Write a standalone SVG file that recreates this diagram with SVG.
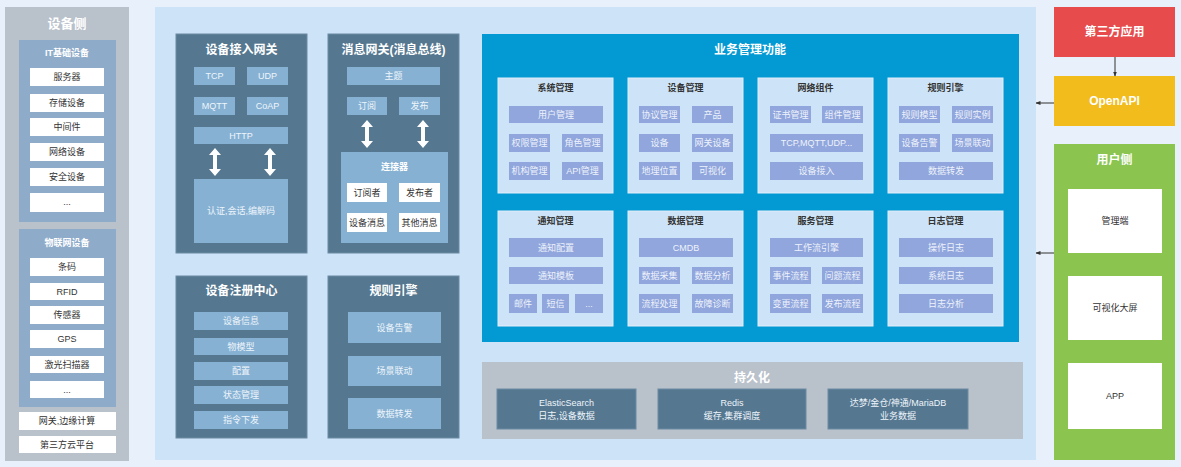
<svg xmlns="http://www.w3.org/2000/svg" xmlns:xlink="http://www.w3.org/1999/xlink" width="1181" height="467" viewBox="0 0 1181 467">
<defs>
<style>
text{font-family:"Liberation Sans","Noto Sans CJK SC",sans-serif;text-anchor:middle;dominant-baseline:central}
.t9{font-size:9px}
.t10{font-size:10px}
.w{fill:#ffffff}
.dk{fill:#333333}
.b{font-weight:bold}
.gray{fill:#b9c1cb}
.itbox{fill:#8eabc9}
.wbox{fill:#ffffff}
.dark{fill:#557790;stroke:#6d8ca4;stroke-width:1}
.lite{fill:#86b1d3}
.sub{fill:#cde3f7;stroke:#e2eefa;stroke-width:1}
.item{fill:#90a6dc}
.itxt{font-size:9px;fill:#eef2fb}
.ltxt{font-size:9px;fill:#eef5fb}
</style>
<path id="dbl" d="M0,-14 L6,-7 L2,-7 L2,7 L6,7 L0,14 L-6,7 L-2,7 L-2,-7 L-6,-7 Z" fill="#ffffff"/>
<marker id="ah" viewBox="0 0 10 10" refX="9" refY="5" markerWidth="5" markerHeight="5" orient="auto"><path d="M0,1 L10,5 L0,9 Z" fill="#333"/></marker>
</defs>
<rect x="0" y="0" width="1181" height="467" fill="#e8f1fb"/>

<!-- Left: device side -->
<g id="device-side">
<rect class="gray" x="5" y="7" width="124" height="454"/>
<text class="w b" x="67" y="23" font-size="13">设备侧</text>
<g id="it-devices">
<rect class="itbox" x="19" y="40" width="97" height="182"/>
<text class="w b t9" x="67" y="53">IT基础设备</text>
<rect class="wbox" x="30" y="68" width="74" height="18"/><text class="dk t9" x="67" y="77">服务器</text>
<rect class="wbox" x="30" y="94" width="74" height="18"/><text class="dk t9" x="67" y="103">存储设备</text>
<rect class="wbox" x="30" y="118" width="74" height="18"/><text class="dk t9" x="67" y="127">中间件</text>
<rect class="wbox" x="30" y="143" width="74" height="18"/><text class="dk t9" x="67" y="152">网络设备</text>
<rect class="wbox" x="30" y="168" width="74" height="18"/><text class="dk t9" x="67" y="177">安全设备</text>
<rect class="wbox" x="30" y="193" width="74" height="19"/><text class="dk t9" x="67" y="202">...</text>
</g>
<g id="iot-devices">
<rect class="itbox" x="19" y="229" width="97" height="178"/>
<text class="w b t9" x="67" y="243">物联网设备</text>
<rect class="wbox" x="30" y="258" width="74" height="18"/><text class="dk t9" x="67" y="267">条码</text>
<rect class="wbox" x="30" y="283" width="74" height="17"/><text class="dk t9" x="67" y="291.5">RFID</text>
<rect class="wbox" x="30" y="306" width="74" height="18"/><text class="dk t9" x="67" y="315">传感器</text>
<rect class="wbox" x="30" y="330" width="74" height="18"/><text class="dk t9" x="67" y="339">GPS</text>
<rect class="wbox" x="30" y="356" width="74" height="17"/><text class="dk t9" x="67" y="364.5">激光扫描器</text>
<rect class="wbox" x="30" y="381" width="74" height="17"/><text class="dk t9" x="67" y="389.5">...</text>
</g>
<g id="edge">
<rect class="wbox" x="19" y="412" width="97" height="18"/><text class="dk t9" x="67" y="421">网关,边缘计算</text>
</g>
<g id="cloud3">
<rect class="wbox" x="19" y="436" width="97" height="17"/><text class="dk t9" x="67" y="444.5">第三方云平台</text>
</g>
</g>

<!-- Main panel -->
<rect x="155" y="7" width="881" height="453" fill="#cde3f7"/>

<g id="access-gateway">
<rect class="dark" x="176" y="34" width="131" height="219"/>
<text class="w b" x="241.5" y="50" font-size="12">设备接入网关</text>
<rect class="lite" x="194" y="67" width="41" height="18"/><text class="ltxt" x="214.5" y="76" font-size="10">TCP</text>
<rect class="lite" x="247" y="67" width="41" height="18"/><text class="ltxt" x="267.5" y="76" font-size="10">UDP</text>
<rect class="lite" x="194" y="97" width="41" height="18"/><text class="ltxt" x="214.5" y="106" font-size="10">MQTT</text>
<rect class="lite" x="247" y="97" width="41" height="18"/><text class="ltxt" x="267.5" y="106" font-size="10">CoAP</text>
<rect class="lite" x="194" y="127" width="94" height="17"/><text class="ltxt" x="241" y="135.5" font-size="10">HTTP</text>
<rect class="lite" x="194" y="179" width="94" height="64"/><text class="ltxt" x="241" y="211">认证,会话,编解码</text>
</g>

<g id="message-gateway">
<rect class="dark" x="328" y="34" width="131" height="219"/>
<text class="w b" x="393.5" y="50" font-size="12">消息网关(消息总线)</text>
<rect class="lite" x="347" y="67" width="93" height="18"/><text class="ltxt" x="393.5" y="76">主题</text>
<rect class="lite" x="347" y="97" width="40" height="18"/><text class="ltxt" x="367" y="106">订阅</text>
<rect class="lite" x="399" y="97" width="41" height="18"/><text class="ltxt" x="419.5" y="106">发布</text>
<g id="connector">
<rect class="lite" x="341" y="152" width="107" height="91"/>
<text class="w b t9" x="394.5" y="167">连接器</text>
<rect class="wbox" x="347" y="183" width="40" height="19"/><text class="dk t9" x="367" y="192.5">订阅者</text>
<rect class="wbox" x="399" y="183" width="41" height="19"/><text class="dk t9" x="419.5" y="192.5">发布者</text>
<rect class="wbox" x="347" y="213" width="40" height="19"/><text class="dk t9" x="367" y="222.5">设备消息</text>
<rect class="wbox" x="399" y="213" width="41" height="19"/><text class="dk t9" x="419.5" y="222.5">其他消息</text>
</g>
</g>

<g id="registry">
<rect class="dark" x="176" y="276" width="131" height="162"/>
<text class="w b" x="241.5" y="291" font-size="12">设备注册中心</text>
<rect class="lite" x="194" y="312" width="94" height="18"/><text class="ltxt" x="241" y="321">设备信息</text>
<rect class="lite" x="194" y="338" width="94" height="17"/><text class="ltxt" x="241" y="346.5">物模型</text>
<rect class="lite" x="194" y="362" width="94" height="18"/><text class="ltxt" x="241" y="371">配置</text>
<rect class="lite" x="194" y="386" width="94" height="18"/><text class="ltxt" x="241" y="395">状态管理</text>
<rect class="lite" x="194" y="411" width="94" height="18"/><text class="ltxt" x="241" y="420">指令下发</text>
</g>

<g id="rule-engine-left">
<rect class="dark" x="328" y="276" width="131" height="162"/>
<text class="w b" x="393.5" y="291" font-size="12">规则引擎</text>
<rect class="lite" x="348" y="312" width="93" height="31"/><text class="ltxt" x="394.5" y="327.5">设备告警</text>
<rect class="lite" x="348" y="356" width="93" height="30"/><text class="ltxt" x="394.5" y="371">场景联动</text>
<rect class="lite" x="348" y="398" width="93" height="31"/><text class="ltxt" x="394.5" y="413.5">数据转发</text>
</g>

<!-- Business management -->
<g id="business">
<rect x="482" y="34" width="537" height="308" fill="#0399d3"/>
<text class="w b" x="750" y="50" font-size="12">业务管理功能</text>

<g id="sys-mgmt">
<rect class="sub" x="498" y="78" width="115" height="115"/>
<text class="dk b t9" x="555.5" y="88">系统管理</text>
<rect class="item" x="509" y="106" width="94" height="17"/><text class="itxt" x="556" y="114.5">用户管理</text>
<rect class="item" x="509" y="134" width="41" height="18"/><text class="itxt" x="529.5" y="143">权限管理</text>
<rect class="item" x="562" y="134" width="41" height="18"/><text class="itxt" x="582.5" y="143">角色管理</text>
<rect class="item" x="509" y="162" width="41" height="18"/><text class="itxt" x="529.5" y="171">机构管理</text>
<rect class="item" x="562" y="162" width="41" height="18"/><text class="itxt" x="582.5" y="171">API管理</text>
</g>
<g id="dev-mgmt">
<rect class="sub" x="628" y="78" width="115" height="115"/>
<text class="dk b t9" x="685.5" y="88">设备管理</text>
<rect class="item" x="639" y="106" width="41" height="17"/><text class="itxt" x="659.5" y="114.5">协议管理</text>
<rect class="item" x="692" y="106" width="41" height="17"/><text class="itxt" x="712.5" y="114.5">产品</text>
<rect class="item" x="639" y="134" width="41" height="18"/><text class="itxt" x="659.5" y="143">设备</text>
<rect class="item" x="692" y="134" width="41" height="18"/><text class="itxt" x="712.5" y="143">网关设备</text>
<rect class="item" x="639" y="162" width="41" height="18"/><text class="itxt" x="659.5" y="171">地理位置</text>
<rect class="item" x="692" y="162" width="41" height="18"/><text class="itxt" x="712.5" y="171">可视化</text>
</g>
<g id="net-comp">
<rect class="sub" x="758" y="78" width="115" height="115"/>
<text class="dk b t9" x="815.5" y="88">网络组件</text>
<rect class="item" x="770" y="106" width="41" height="17"/><text class="itxt" x="790.5" y="114.5">证书管理</text>
<rect class="item" x="822" y="106" width="41" height="17"/><text class="itxt" x="842.5" y="114.5">组件管理</text>
<rect class="item" x="770" y="134" width="93" height="18"/><text class="itxt" x="816.5" y="143">TCP,MQTT,UDP...</text>
<rect class="item" x="770" y="162" width="93" height="18"/><text class="itxt" x="816.5" y="171">设备接入</text>
</g>
<g id="rule-engine-right">
<rect class="sub" x="888" y="78" width="115" height="115"/>
<text class="dk b t9" x="945.5" y="88">规则引擎</text>
<rect class="item" x="899" y="106" width="41" height="17"/><text class="itxt" x="919.5" y="114.5">规则模型</text>
<rect class="item" x="952" y="106" width="41" height="17"/><text class="itxt" x="972.5" y="114.5">规则实例</text>
<rect class="item" x="899" y="134" width="41" height="18"/><text class="itxt" x="919.5" y="143">设备告警</text>
<rect class="item" x="952" y="134" width="41" height="18"/><text class="itxt" x="972.5" y="143">场景联动</text>
<rect class="item" x="899" y="162" width="94" height="18"/><text class="itxt" x="946" y="171">数据转发</text>
</g>

<g id="notify-mgmt">
<rect class="sub" x="498" y="211" width="115" height="115"/>
<text class="dk b t9" x="555.5" y="221">通知管理</text>
<rect class="item" x="509" y="238" width="94" height="19"/><text class="itxt" x="556" y="247.5">通知配置</text>
<rect class="item" x="509" y="267" width="94" height="17"/><text class="itxt" x="556" y="275.5">通知模板</text>
<rect class="item" x="509" y="294" width="28" height="19"/><text class="itxt" x="523" y="303.5">邮件</text>
<rect class="item" x="542" y="294" width="27" height="19"/><text class="itxt" x="555.5" y="303.5">短信</text>
<rect class="item" x="575" y="294" width="28" height="19"/><text class="itxt" x="589" y="303.5">...</text>
</g>
<g id="data-mgmt">
<rect class="sub" x="628" y="211" width="115" height="115"/>
<text class="dk b t9" x="685.5" y="221">数据管理</text>
<rect class="item" x="639" y="238" width="94" height="19"/><text class="itxt" x="686" y="247.5" font-size="10">CMDB</text>
<rect class="item" x="639" y="267" width="41" height="17"/><text class="itxt" x="659.5" y="275.5">数据采集</text>
<rect class="item" x="692" y="267" width="41" height="17"/><text class="itxt" x="712.5" y="275.5">数据分析</text>
<rect class="item" x="639" y="294" width="41" height="19"/><text class="itxt" x="659.5" y="303.5">流程处理</text>
<rect class="item" x="692" y="294" width="41" height="19"/><text class="itxt" x="712.5" y="303.5">故障诊断</text>
</g>
<g id="svc-mgmt">
<rect class="sub" x="758" y="211" width="115" height="115"/>
<text class="dk b t9" x="815.5" y="221">服务管理</text>
<rect class="item" x="770" y="238" width="93" height="19"/><text class="itxt" x="816.5" y="247.5">工作流引擎</text>
<rect class="item" x="770" y="267" width="41" height="17"/><text class="itxt" x="790.5" y="275.5">事件流程</text>
<rect class="item" x="822" y="267" width="41" height="17"/><text class="itxt" x="842.5" y="275.5">问题流程</text>
<rect class="item" x="770" y="294" width="41" height="19"/><text class="itxt" x="790.5" y="303.5">变更流程</text>
<rect class="item" x="822" y="294" width="41" height="19"/><text class="itxt" x="842.5" y="303.5">发布流程</text>
</g>
<g id="log-mgmt">
<rect class="sub" x="888" y="211" width="115" height="115"/>
<text class="dk b t9" x="945.5" y="221">日志管理</text>
<rect class="item" x="899" y="238" width="94" height="19"/><text class="itxt" x="946" y="247.5">操作日志</text>
<rect class="item" x="899" y="267" width="94" height="17"/><text class="itxt" x="946" y="275.5">系统日志</text>
<rect class="item" x="899" y="294" width="94" height="19"/><text class="itxt" x="946" y="303.5">日志分析</text>
</g>
</g>

<!-- Persistence -->
<g id="persistence">
<rect x="482" y="362" width="541" height="77" fill="#b9c1cb"/>
<text class="w b" x="752" y="378" font-size="12">持久化</text>
<rect class="dark" x="497" y="389" width="139" height="40"/>
<text class="ltxt" x="566.5" y="403">ElasticSearch</text><text class="ltxt" x="566.5" y="416">日志,设备数据</text>
<rect class="dark" x="658" y="389" width="148" height="40"/>
<text class="ltxt" x="732" y="403">Redis</text><text class="ltxt" x="732" y="416">缓存,集群调度</text>
<rect class="dark" x="828" y="389" width="140" height="40"/>
<text class="ltxt" x="898" y="403">达梦/金仓/神通/MariaDB</text><text class="ltxt" x="898" y="416">业务数据</text>
</g>

<!-- Right side -->
<g id="third-app">
<rect x="1054" y="7" width="121" height="50" fill="#e74b4b"/>
<text class="w b" x="1114.5" y="32" font-size="12">第三方应用</text>
</g>
<g id="openapi">
<rect x="1054" y="76" width="121" height="50" fill="#f2bc1c"/>
<text class="w b" x="1114.5" y="101" font-size="12">OpenAPI</text>
</g>
<g id="user-side">
<rect x="1054" y="144" width="121" height="316" fill="#8bc54f"/>
<text class="w b" x="1114.5" y="160" font-size="12">用户侧</text>
<rect class="wbox" x="1068" y="189" width="94" height="64"/><text class="dk t9" x="1115" y="221">管理端</text>
<rect class="wbox" x="1068" y="276" width="94" height="64"/><text class="dk t9" x="1115" y="308">可视化大屏</text>
<rect class="wbox" x="1068" y="363" width="94" height="66"/><text class="dk t9" x="1115" y="396">APP</text>
</g>

<!-- Connectors -->
<g id="connectors">
<use xlink:href="#dbl" x="215" y="162"/>
<use xlink:href="#dbl" x="270" y="162"/>
<use xlink:href="#dbl" x="367" y="134"/>
<use xlink:href="#dbl" x="423" y="134"/>
<line x1="1115" y1="57" x2="1115" y2="76" stroke="#333" stroke-width="1" marker-end="url(#ah)"/>
<line x1="1054" y1="103" x2="1036" y2="103" stroke="#333" stroke-width="1" marker-end="url(#ah)"/>
<line x1="1054" y1="253" x2="1036" y2="253" stroke="#333" stroke-width="1" marker-end="url(#ah)"/>
</g>
</svg>
